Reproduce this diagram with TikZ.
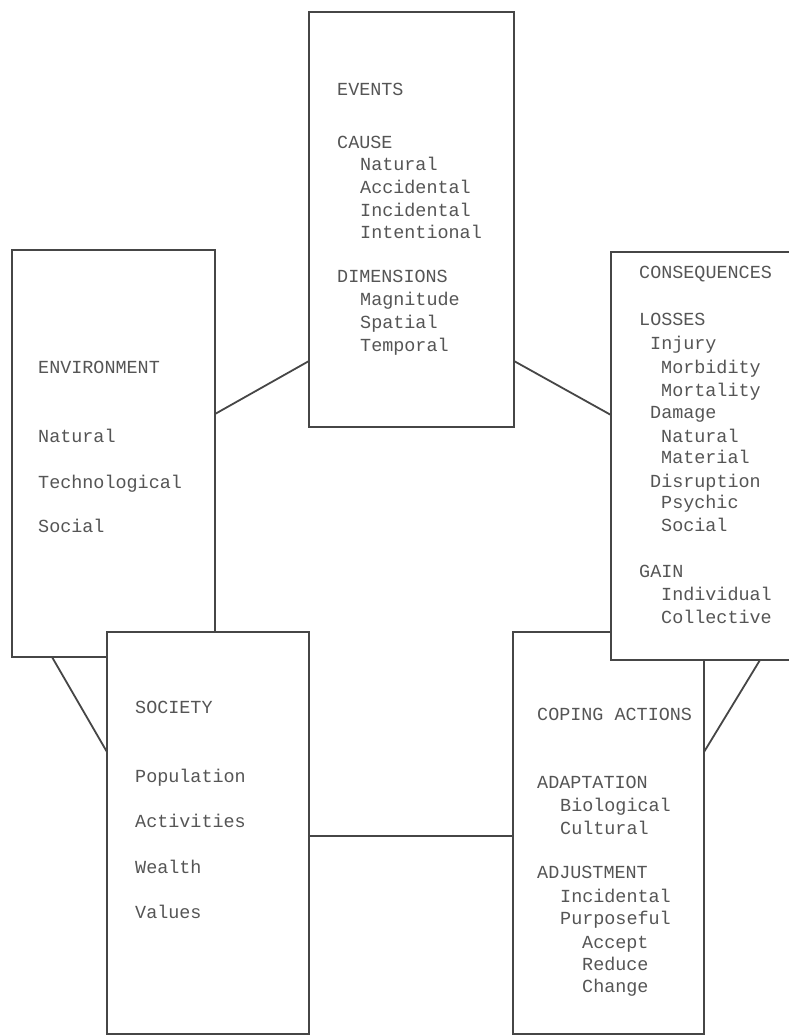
\documentclass[tikz,border=0pt]{standalone}
\usepackage{fontspec}
\setmonofont{Liberation Mono}
\begin{document}
\begin{tikzpicture}[x=1bp,y=-1bp,
  box/.style={draw=lineg, line width=1.8bp, fill=white, inner sep=0pt, outer sep=0pt},
  link/.style={draw=lineg, line width=1.8bp},
  txt/.style={anchor=mid west, inner sep=0pt, yshift=-3bp, text=textg, font=\ttfamily\fontsize{18.5}{22}\selectfont}]
\definecolor{lineg}{RGB}{70,70,70}
\definecolor{textg}{RGB}{85,85,85}
\useasboundingbox[fill=white] (0,0) rectangle (789,1036);
\begin{scope}
\clip (0,0) rectangle (789,1036);
% boxes
\node[box, minimum width=203bp, minimum height=407bp] (env) at (113.5,453.5) {};
\node[box, minimum width=191bp, minimum height=402bp] (coping) at (608.5,833) {};
\node[box, minimum width=202bp, minimum height=402bp] (society) at (208,833) {};
\node[box, minimum width=209bp, minimum height=408bp] (conseq) at (715.5,456) {};
\node[box, minimum width=205bp, minimum height=415bp] (events) at (411.5,219.5) {};
% connectors
\draw[link] (env.east |- 0,414) -- (events.west |- 0,361);
\draw[link] (events.east |- 0,361) -- (conseq.west |- 0,415);
\draw[link] (env.south -| 52,0) -- (society.west |- 0,752);
\draw[link] (conseq.south -| 760,0) -- (coping.east |- 0,752);
\draw[link] (society.east |- 0,836) -- (coping.west |- 0,836);
\end{scope}
% EVENTS
\node[txt] (ev0) at (337,90) {EVENTS};
\node[txt] (ev1) at (337,143) {CAUSE};
\node[txt] (ev2) at (360,165) {Natural};
\node[txt] (ev3) at (360,188) {Accidental};
\node[txt] (ev4) at (360,211) {Incidental};
\node[txt] (ev5) at (360,233) {Intentional};
\node[txt] (ev6) at (337,277) {DIMENSIONS};
\node[txt] (ev7) at (360,300) {Magnitude};
\node[txt] (ev8) at (360,323) {Spatial};
\node[txt] (ev9) at (360,346) {Temporal};
% ENVIRONMENT
\node[txt] (en0) at (38,368) {ENVIRONMENT};
\node[txt] (en1) at (38,437) {Natural};
\node[txt] (en2) at (38,483) {Technological};
\node[txt] (en3) at (38,527) {Social};
% CONSEQUENCES
\node[txt] (co0) at (639,273) {CONSEQUENCES};
\node[txt] (co1) at (639,320) {LOSSES};
\node[txt] (co2) at (650,344) {Injury};
\node[txt] (co3) at (661,368) {Morbidity};
\node[txt] (co4) at (661,391) {Mortality};
\node[txt] (co5) at (650,413) {Damage};
\node[txt] (co6) at (661,437) {Natural};
\node[txt] (co7) at (661,458) {Material};
\node[txt] (co8) at (650,482) {Disruption};
\node[txt] (co9) at (661,503) {Psychic};
\node[txt] (co10) at (661,526) {Social};
\node[txt] (co11) at (639,572) {GAIN};
\node[txt] (co12) at (661,595) {Individual};
\node[txt] (co13) at (661,618) {Collective};
% SOCIETY
\node[txt] (so0) at (135,708) {SOCIETY};
\node[txt] (so1) at (135,777) {Population};
\node[txt] (so2) at (135,822) {Activities};
\node[txt] (so3) at (135,868) {Wealth};
\node[txt] (so4) at (135,913) {Values};
% COPING ACTIONS
\node[txt] (cp0) at (537,715) {COPING ACTIONS};
\node[txt] (cp1) at (537,783) {ADAPTATION};
\node[txt] (cp2) at (560,806) {Biological};
\node[txt] (cp3) at (560,829) {Cultural};
\node[txt] (cp4) at (537,873) {ADJUSTMENT};
\node[txt] (cp5) at (560,897) {Incidental};
\node[txt] (cp6) at (560,919) {Purposeful};
\node[txt] (cp7) at (582,943) {Accept};
\node[txt] (cp8) at (582,965) {Reduce};
\node[txt] (cp9) at (582,987) {Change};
\end{tikzpicture}
\end{document}
